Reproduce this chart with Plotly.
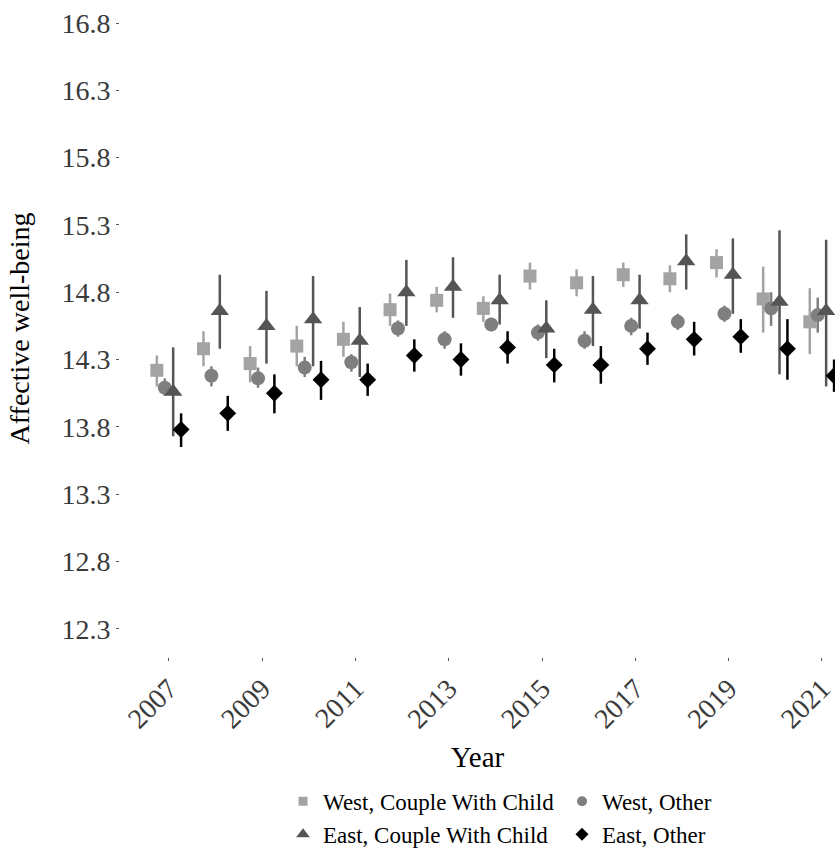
import plotly.graph_objects as go

# Survey years
years = list(range(2007, 2022))
tick_years = [2007, 2009, 2011, 2013, 2015, 2017, 2019, 2021]
y_ticks = [12.3, 12.8, 13.3, 13.8, 14.3, 14.8, 15.3, 15.8, 16.3, 16.8]

# Group means with lower / upper confidence bounds
west_cwc = [14.22, 14.38, 14.27, 14.40, 14.45, 14.67, 14.74, 14.68, 14.92, 14.87, 14.93, 14.90, 15.02, 14.75, 14.58]
west_cwc_lo = [14.10, 14.25, 14.13, 14.25, 14.32, 14.55, 14.65, 14.58, 14.82, 14.77, 14.84, 14.80, 14.91, 14.50, 14.34]
west_cwc_hi = [14.33, 14.51, 14.40, 14.55, 14.58, 14.79, 14.84, 14.77, 15.02, 14.97, 15.02, 15.00, 15.12, 14.99, 14.83]

west_oth = [14.09, 14.18, 14.16, 14.24, 14.28, 14.53, 14.45, 14.56, 14.50, 14.44, 14.55, 14.58, 14.64, 14.68, 14.63]
west_oth_lo = [14.03, 14.10, 14.09, 14.17, 14.21, 14.47, 14.38, 14.51, 14.44, 14.38, 14.48, 14.52, 14.58, 14.55, 14.50]
west_oth_hi = [14.16, 14.25, 14.24, 14.32, 14.34, 14.59, 14.51, 14.61, 14.56, 14.51, 14.61, 14.64, 14.70, 14.80, 14.76]

east_cwc = [14.06, 14.66, 14.55, 14.60, 14.44, 14.80, 14.84, 14.74, 14.53, 14.67, 14.74, 15.03, 14.93, 14.73, 14.66]
east_cwc_lo = [13.73, 14.38, 14.27, 14.25, 14.17, 14.55, 14.61, 14.56, 14.31, 14.40, 14.53, 14.82, 14.64, 14.19, 14.10]
east_cwc_hi = [14.39, 14.93, 14.81, 14.92, 14.69, 15.04, 15.06, 14.93, 14.74, 14.92, 14.93, 15.23, 15.20, 15.26, 15.19]

east_oth = [13.78, 13.90, 14.05, 14.15, 14.15, 14.33, 14.30, 14.39, 14.26, 14.26, 14.38, 14.45, 14.47, 14.38, 14.18]
east_oth_lo = [13.65, 13.77, 13.90, 14.00, 14.03, 14.21, 14.18, 14.27, 14.13, 14.12, 14.26, 14.33, 14.35, 14.15, 14.06]
east_oth_hi = [13.90, 14.03, 14.19, 14.29, 14.27, 14.45, 14.42, 14.51, 14.38, 14.40, 14.50, 14.58, 14.60, 14.60, 14.30]

# name, mean, low, high, colour, symbol, plot size, legend size, dodge offset
series = [
    ("West, Couple With Child", west_cwc, west_cwc_lo, west_cwc_hi, "#A3A3A3", "square", 13, 9, -0.26),
    ("West, Other", west_oth, west_oth_lo, west_oth_hi, "#7F7F7F", "circle", 14, 10, -0.09),
    ("East, Couple With Child", east_cwc, east_cwc_lo, east_cwc_hi, "#555555", "triangle-up", 16, 12, 0.09),
    ("East, Other", east_oth, east_oth_lo, east_oth_hi, "#000000", "diamond", 13, 10, 0.26),
]

FONT = "Liberation Serif, Times New Roman, serif"

fig = go.Figure()
for name, mean, lo, hi, color, symbol, size, leg_size, dodge in series:
    fig.add_trace(go.Scatter(
        x=[y + dodge for y in years],
        y=mean,
        mode="markers",
        name=name,
        showlegend=False,
        marker=dict(symbol=symbol, size=size, color=color, line=dict(width=0)),
        error_y=dict(
            type="data",
            symmetric=False,
            array=[h - m for h, m in zip(hi, mean)],
            arrayminus=[m - l for m, l in zip(mean, lo)],
            color=color,
            thickness=2.5,
            width=0,
        ),
    ))
    # legend key with smaller symbol
    fig.add_trace(go.Scatter(
        x=[None], y=[None],
        mode="markers",
        name=name,
        showlegend=True,
        marker=dict(symbol=symbol, size=leg_size, color=color, line=dict(width=0)),
    ))

fig.update_layout(
    width=835,
    height=848,
    margin=dict(l=120, r=0, t=0, b=191, autoexpand=False),
    paper_bgcolor="white",
    plot_bgcolor="white",
    font=dict(family=FONT, color="#000000"),
    showlegend=True,
    legend=dict(
        orientation="h",
        x=0.228,
        xanchor="left",
        y=-0.187,
        yanchor="top",
        font=dict(family=FONT, size=23, color="#000000"),
        entrywidth=234,
        entrywidthmode="pixels",
        itemsizing="trace",
        tracegroupgap=0,
    ),
    xaxis=dict(
        range=[2005.95, 2021.28],
        tickmode="array",
        tickvals=tick_years,
        ticktext=[str(t) for t in tick_years],
        tickangle=-45,
        ticklabeloverflow="allow",
        tickfont=dict(family=FONT, size=28, color="#3A3A3A"),
        ticks="outside",
        ticklen=3,
        tickwidth=1,
        tickcolor="#555555",
        showgrid=False,
        zeroline=False,
        showline=False,
        title=dict(text="Year", font=dict(family=FONT, size=29, color="#000000"), standoff=13),
    ),
    yaxis=dict(
        range=[12.09, 16.971],
        tickmode="array",
        tickvals=y_ticks,
        ticktext=[f"{t:.1f}" for t in y_ticks],
        tickfont=dict(family=FONT, size=28, color="#3A3A3A"),
        ticks="outside",
        ticklen=3,
        tickwidth=1,
        tickcolor="#555555",
        showgrid=False,
        zeroline=False,
        showline=False,
        title=dict(text="Affective well-being", font=dict(family=FONT, size=28, color="#000000"), standoff=23),
    ),
)

fig.write_html("out.html")
